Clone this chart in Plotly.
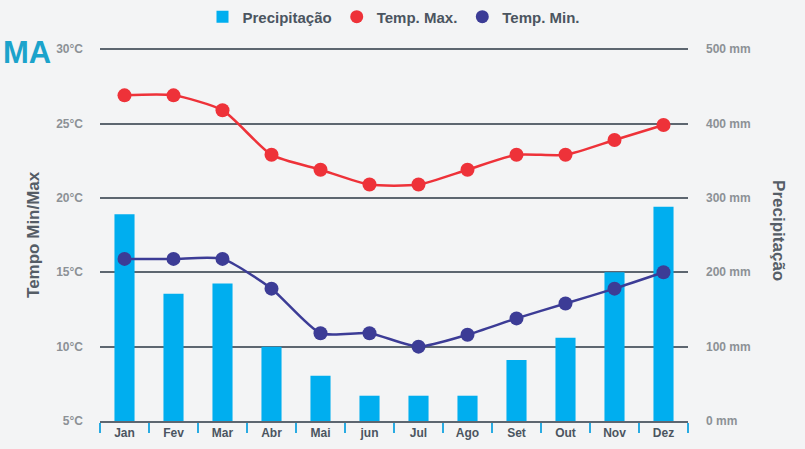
import plotly.graph_objects as go

months = ["Jan", "Fev", "Mar", "Abr", "Mai", "jun", "Jul", "Ago", "Set", "Out", "Nov", "Dez"]
precip_mm = [278, 171, 185, 100, 61, 34, 34, 34, 82, 112, 200, 288]
temp_max = [26.9, 26.9, 25.9, 22.9, 21.9, 20.9, 20.9, 21.9, 22.9, 22.9, 23.9, 24.9]
temp_min = [15.9, 15.9, 15.9, 13.9, 10.9, 10.9, 10.0, 10.8, 11.9, 12.9, 13.9, 15.0]

temp_ticks = [5, 10, 15, 20, 25, 30]
temp_labels = [f"{t}°C" for t in temp_ticks]
precip_ticks = [0, 100, 200, 300, 400, 500]
precip_labels = [f"{p} mm" for p in precip_ticks]

BLUE = "#00aeef"
RED = "#ee3239"
NAVY = "#3c3c96"
DARK = "#4b5560"
GRAY = "#8c9196"
GRID = "#5d6670"
FONT = "Liberation Sans, Arial, sans-serif"

fig = go.Figure()

fig.add_trace(go.Bar(
    x=months, y=precip_mm, name="Precipitação", marker=dict(color=BLUE, line=dict(width=0)),
    width=0.41, yaxis="y", showlegend=True,
))

fig.add_trace(go.Scatter(
    x=months, y=temp_max, mode="lines+markers", yaxis="y2",
    line=dict(color=RED, width=2.5, shape="spline", smoothing=0.6),
    marker=dict(color=RED, size=14), showlegend=False, name="Temp. Max.",
))
fig.add_trace(go.Scatter(
    x=months, y=temp_min, mode="lines+markers", yaxis="y2",
    line=dict(color=NAVY, width=2.5, shape="spline", smoothing=0.6),
    marker=dict(color=NAVY, size=14), showlegend=False, name="Temp. Min.",
))
# legend-only entries (circle symbols)
fig.add_trace(go.Scatter(x=[None], y=[None], mode="markers", yaxis="y2",
                         marker=dict(color=RED, size=13), name="Temp. Max."))
fig.add_trace(go.Scatter(x=[None], y=[None], mode="markers", yaxis="y2",
                         marker=dict(color=NAVY, size=13), name="Temp. Min."))

fig.update_layout(
    width=805, height=449,
    margin=dict(l=100, r=117, t=47, b=28, autoexpand=False),
    paper_bgcolor="#f3f4f5",
    plot_bgcolor="rgba(0,0,0,0)",
    font=dict(family=FONT, color=DARK),
    xaxis=dict(
        type="category", range=[-0.5, 11.5], showgrid=False, automargin=False,
        showline=True, linecolor=GRID, linewidth=1.5,
        ticks="outside", tickson="boundaries", ticklen=10, tickwidth=1.5, tickcolor="#29abe2",
        tickfont=dict(size=12, color=DARK, family=FONT, weight="bold"),
        zeroline=False,
    ),
    yaxis=dict(
        range=[0, 503], side="right", tickvals=precip_ticks, ticktext=precip_labels,
        showgrid=True, gridcolor=GRID, gridwidth=1.5, zeroline=False, automargin=False,
        ticks="", ticklabelstandoff=17,
        tickfont=dict(size=12, color=GRAY, family=FONT, weight="bold"),
    ),
    yaxis2=dict(
        range=[5, 30.15], side="left", overlaying="y", tickvals=temp_ticks, ticktext=temp_labels,
        showgrid=False, zeroline=False, ticks="", ticklabelstandoff=16, automargin=False,
        tickfont=dict(size=12, color=GRAY, family=FONT, weight="bold"),
    ),
    legend=dict(
        orientation="h", x=0.5, xanchor="center", xref="paper",
        y=0.999, yanchor="top", yref="container",
        bgcolor="rgba(0,0,0,0)",
        font=dict(size=15, color=DARK, family=FONT, weight="bold"),
        itemwidth=30,
    ),
    annotations=[
        dict(text="Tempo Min/Max", xref="paper", yref="paper", x=-0.114, y=0.5,
             textangle=-90, showarrow=False, xanchor="center", yanchor="middle",
             font=dict(size=17, color="#555d66", family=FONT, weight="bold")),
        dict(text="Precipitação", xref="paper", yref="paper", x=1.155, y=0.51,
             textangle=90, showarrow=False, xanchor="center", yanchor="middle",
             font=dict(size=17, color="#555d66", family=FONT, weight="bold")),
        dict(text="MA", xref="paper", yref="paper", x=-0.168, y=0.985,
             showarrow=False, xanchor="left", yanchor="middle",
             font=dict(size=31, color="#1ba3cb", family=FONT, weight="bold")),
    ],
)

fig.write_html("out.html", config={"displayModeBar": False},
               post_script="document.body.style.margin='0';window.dispatchEvent(new Event('resize'));")
